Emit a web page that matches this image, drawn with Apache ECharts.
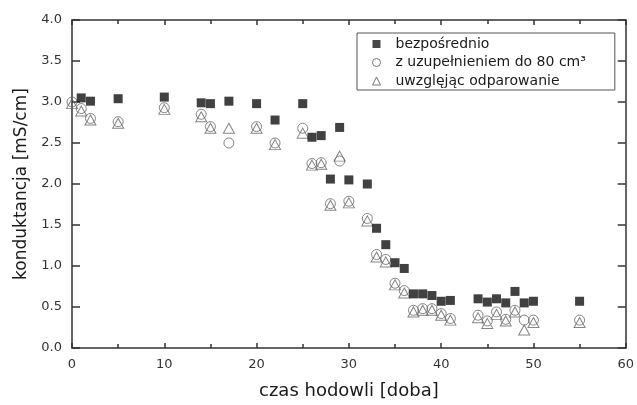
<!DOCTYPE html>
<html>
<head>
<meta charset="utf-8">
<script src="https://cdn.jsdelivr.net/npm/echarts@6/dist/echarts.min.js"></script>
<style>html,body{margin:0;padding:0;background:#fff}#c{width:637px;height:405px}</style>
</head>
<body>
<div id="c"></div>
<script>
// --- data ---
var seriesNames = ['bezpośrednio', 'z uzupełnieniem do 80 cm³', 'uwzgl\u0119j\u0105c odparowanie'];
var daysA = [1,2,5,10,14,15,17,20,22,25,26,27,28,29,30,32,33,34,35,36,37,38,39,40,41,44,45,46,47,48,49,50,55];
var valsA = [3.05,3.01,3.04,3.06,2.99,2.98,3.01,2.98,2.78,2.98,2.57,2.59,2.06,2.69,2.05,2.00,1.46,1.26,1.04,0.97,0.66,0.66,0.64,0.57,0.58,0.60,0.56,0.60,0.55,0.69,0.55,0.57,0.57];
var daysB = [0,1,2,5,10,14,15,17,20,22,25,26,27,28,29,30,32,33,34,35,36,37,38,39,40,41,44,45,46,47,48,49,50,55];
var valsB = [3.00,2.92,2.80,2.76,2.93,2.85,2.70,2.50,2.70,2.50,2.68,2.25,2.26,1.76,2.28,1.79,1.58,1.14,1.08,0.79,0.70,0.46,0.48,0.48,0.42,0.36,0.40,0.33,0.44,0.35,0.46,0.34,0.34,0.34];
var daysC = [0,1,2,5,10,14,15,17,20,22,25,26,27,28,29,30,32,33,34,35,36,37,38,39,40,41,44,45,46,47,48,49,50,55];
var valsC = [2.98,2.89,2.78,2.74,2.91,2.82,2.68,2.68,2.68,2.48,2.62,2.23,2.24,1.74,2.34,1.77,1.55,1.11,1.05,0.77,0.67,0.44,0.46,0.46,0.40,0.34,0.37,0.30,0.41,0.33,0.44,0.22,0.31,0.31];
var xTitle = 'czas hodowli [doba]';
var yTitle = 'konduktancja [mS/cm]';

function pairs(xs, ys) { return xs.map(function (x, i) { return [x, ys[i]]; }); }

var FONT = 'DejaVu Sans';
var AX = '#333';
var chart = echarts.init(document.getElementById('c'), null, {renderer: 'canvas'});
chart.setOption({
  animation: false,
  backgroundColor: '#fff',
  grid: {left: 72, right: 10, top: 20, bottom: 54, containLabel: false},
  legend: {
    orient: 'vertical',
    left: 357, top: 33,
    padding: [4, 29, 2, 15],
    itemGap: 4.5,
    itemWidth: 8, itemHeight: 8,
    borderColor: '#555', borderWidth: 1,
    textStyle: {fontFamily: FONT, fontSize: 14, color: '#1a1a1a', lineHeight: 14, padding: [0, 0, 0, 10]},
    data: [
      {name: seriesNames[0], icon: 'rect', itemStyle: {color: '#1a1a1a', borderWidth: 0}},
      {name: seriesNames[1], icon: 'circle', itemStyle: {color: 'transparent', borderColor: '#555', borderWidth: 1}},
      {name: seriesNames[2], icon: 'triangle', itemStyle: {color: 'transparent', borderColor: '#555', borderWidth: 1}}
    ]
  },
  xAxis: [{
    type: 'value', min: 0, max: 60, interval: 10,
    name: xTitle, nameLocation: 'middle', nameGap: 34,
    nameTextStyle: {fontFamily: FONT, fontSize: 18, color: '#1a1a1a'},
    axisLine: {show: true, onZero: false, lineStyle: {color: AX, width: 1.5}},
    axisTick: {show: true, inside: true, length: 5, lineStyle: {color: AX, width: 1.5}},
    minorTick: {show: true, splitNumber: 2, length: 4, lineStyle: {color: AX, width: 1.5}},
    axisLabel: {fontFamily: FONT, fontSize: 13, color: '#333', margin: 10},
    splitLine: {show: false}
  }, {
    type: 'value', min: 0, max: 60, interval: 10, position: 'top',
    axisLine: {show: true, onZero: false, lineStyle: {color: AX, width: 1.5}},
    axisTick: {show: true, inside: true, length: 5, lineStyle: {color: AX, width: 1.5}},
    minorTick: {show: true, splitNumber: 2, length: 4, lineStyle: {color: AX, width: 1.5}},
    axisLabel: {show: false},
    splitLine: {show: false}
  }],
  yAxis: [{
    type: 'value', min: 0, max: 4, interval: 0.5,
    name: yTitle, nameLocation: 'middle', nameGap: 40,
    nameTextStyle: {fontFamily: FONT, fontSize: 17, color: '#1a1a1a'},
    axisLine: {show: true, onZero: false, lineStyle: {color: AX, width: 1.5}},
    axisTick: {show: true, inside: true, length: 8, lineStyle: {color: AX, width: 1.5}},
    axisLabel: {fontFamily: FONT, fontSize: 13, color: '#333', margin: 10,
      formatter: function (v) { return v.toFixed(1); }},
    splitLine: {show: false}
  }, {
    type: 'value', min: 0, max: 4, interval: 0.5, position: 'right',
    axisLine: {show: true, onZero: false, lineStyle: {color: AX, width: 1.5}},
    axisTick: {show: true, inside: true, length: 8, lineStyle: {color: AX, width: 1.5}},
    axisLabel: {show: false},
    splitLine: {show: false}
  }],
  series: [{
    name: seriesNames[1], type: 'scatter', symbol: 'circle', symbolSize: 10,
    itemStyle: {color: 'rgba(255,255,255,0)', borderColor: '#666', borderWidth: 1},
    data: pairs(daysB, valsB)
  }, {
    name: seriesNames[2], type: 'scatter', symbol: 'triangle', symbolSize: [11, 10],
    itemStyle: {color: 'rgba(255,255,255,0)', borderColor: '#666', borderWidth: 1},
    data: pairs(daysC, valsC)
  }, {
    name: seriesNames[0], type: 'scatter', symbol: 'rect', symbolSize: 9,
    itemStyle: {color: '#111'},
    data: pairs(daysA, valsA)
  }]
});
</script>
</body>
</html>
